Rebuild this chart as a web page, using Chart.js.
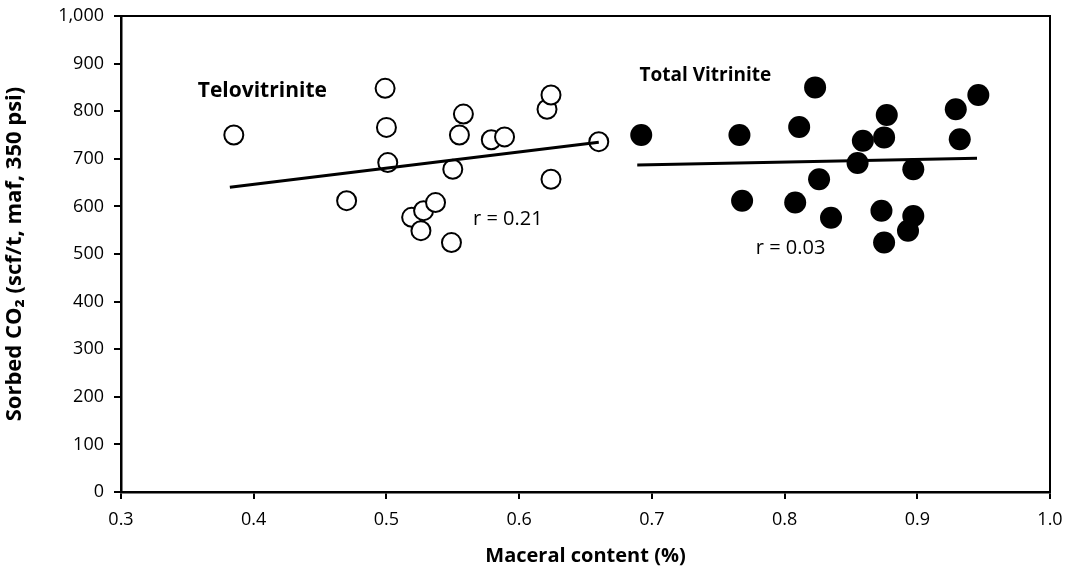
<!DOCTYPE html>
<html>
<head>
<meta charset="utf-8">
<script src="https://cdn.jsdelivr.net/npm/chart.js@4.4.1/dist/chart.umd.min.js"></script>
<style>
  html, body { margin: 0; padding: 0; background: #fff; }
  #wrap { width: 1068px; height: 581px; position: relative; }
</style>
</head>
<body>
<div id="wrap"><canvas id="sorbChart"></canvas></div>
<script>
// Telovitrinite samples (open circles)
const teloX = [0.385, 0.470, 0.499, 0.500, 0.501, 0.519, 0.528, 0.526, 0.537, 0.549,
               0.550, 0.555, 0.558, 0.579, 0.589, 0.621, 0.624, 0.624, 0.660];
const teloY = [750, 612, 848, 766, 692, 577, 591, 549, 608, 524,
               678, 750, 794, 740, 746, 804, 834, 657, 736];

// Total vitrinite samples (filled circles)
const totalX = [0.692, 0.766, 0.768, 0.808, 0.811, 0.823, 0.826, 0.835, 0.855, 0.859,
                0.873, 0.875, 0.875, 0.877, 0.893, 0.897, 0.897, 0.929, 0.932, 0.946];
const totalY = [750, 750, 612, 608, 767, 850, 657, 576, 691, 738,
                591, 524, 745, 792, 549, 678, 580, 804, 741, 834];

// Linear fit end points
const teloFitX = [0.382, 0.660];
const teloFitY = [640, 735];
const totalFitX = [0.689, 0.945];
const totalFitY = [687, 701];

const xTicks = [0.3, 0.4, 0.5, 0.6, 0.7, 0.8, 0.9, 1.0];
const yTicks = [0, 100, 200, 300, 400, 500, 600, 700, 800, 900, 1000];

const FONT = "'Open Sans', sans-serif";

const toPoints = (xs, ys) => xs.map((x, i) => ({ x: x, y: ys[i] }));

// Text placed on the plot, anchored in data units
const notes = [
    { text: 'Telovitrinite', x: 0.4065, y: 843, font: 'bold 21px ' },
    { text: 'Total Vitrinite', x: 0.7403, y: 874, font: 'bold 19px ' },
    { text: 'r = 0.21', x: 0.5915, y: 572, font: '20px ' },
    { text: 'r = 0.03', x: 0.8045, y: 511, font: '20px ' }
];

const framePlugin = {
    id: 'frame',
    afterDatasetsDraw(chart) {
        const { ctx, chartArea: a, scales } = chart;
        ctx.save();
        // top and right edges of the box
        ctx.strokeStyle = '#000';
        ctx.lineWidth = 2;
        ctx.beginPath();
        ctx.moveTo(a.left, a.top);
        ctx.lineTo(a.right, a.top);
        ctx.lineTo(a.right, a.bottom);
        ctx.stroke();

        ctx.fillStyle = '#000';
        ctx.textAlign = 'center';
        ctx.textBaseline = 'middle';
        notes.forEach(n => {
            ctx.font = n.font + FONT;
            ctx.fillText(n.text, scales.x.getPixelForValue(n.x), scales.y.getPixelForValue(n.y));
        });
        ctx.restore();
    }
};

new Chart(document.getElementById('sorbChart'), {
    type: 'scatter',
    data: {
        datasets: [
            {
                type: 'line',
                label: 'Telovitrinite fit',
                data: toPoints(teloFitX, teloFitY),
                borderColor: '#000',
                borderWidth: 3,
                pointRadius: 0,
                showLine: true,
                order: 0
            },
            {
                type: 'line',
                label: 'Total vitrinite fit',
                data: toPoints(totalFitX, totalFitY),
                borderColor: '#000',
                borderWidth: 3,
                pointRadius: 0,
                showLine: true,
                order: 0
            },
            {
                label: 'Telovitrinite',
                data: toPoints(teloX, teloY),
                pointStyle: 'circle',
                pointRadius: 9.5,
                pointBorderWidth: 2,
                pointBorderColor: '#000',
                pointBackgroundColor: '#fff',
                order: 1
            },
            {
                label: 'Total Vitrinite',
                data: toPoints(totalX, totalY),
                pointStyle: 'circle',
                pointRadius: 11,
                pointBorderWidth: 0,
                pointBorderColor: '#000',
                pointBackgroundColor: '#000',
                order: 1
            }
        ]
    },
    options: {
        responsive: true,
        maintainAspectRatio: false,
        animation: false,
        layout: { padding: { top: 16, right: 18, left: 0, bottom: 13 } },
        plugins: {
            legend: { display: false },
            tooltip: { enabled: false }
        },
        scales: {
            x: {
                type: 'linear',
                min: 0.3,
                max: 1.0,
                afterFit(scale) {
                    scale.height = 76;
                    scale.paddingLeft = 0;
                    scale.paddingRight = 0;
                },
                afterBuildTicks(scale) { scale.ticks = xTicks.map(v => ({ value: v })); },
                border: { display: true, color: '#000', width: 2.5 },
                grid: { drawOnChartArea: false, drawTicks: true, tickLength: 7, color: '#000', lineWidth: 2 },
                ticks: {
                    color: '#000',
                    padding: 10,
                    font: { family: FONT, size: 18 },
                    callback: v => v.toFixed(1)
                },
                title: {
                    display: true,
                    text: 'Maceral content (%)',
                    color: '#000',
                    font: { family: FONT, size: 20, weight: 'bold' },
                    padding: { top: 8, bottom: 0 }
                }
            },
            y: {
                type: 'linear',
                min: 0,
                max: 1000,
                afterFit(scale) {
                    scale.width = 121;
                    scale.paddingTop = 0;
                    scale.paddingBottom = 0;
                },
                afterBuildTicks(scale) { scale.ticks = yTicks.map(v => ({ value: v })); },
                border: { display: true, color: '#000', width: 2.5 },
                grid: { drawOnChartArea: false, drawTicks: true, tickLength: 7, color: '#000', lineWidth: 2 },
                ticks: {
                    color: '#000',
                    padding: 10,
                    font: { family: FONT, size: 18 },
                    callback: v => v.toLocaleString('en-US')
                },
                title: {
                    display: true,
                    text: 'Sorbed CO₂ (scf/t, maf, 350 psi)',
                    color: '#000',
                    font: { family: FONT, size: 22, weight: 'bold' },
                    padding: { top: 2, bottom: 4 }
                }
            }
        }
    },
    plugins: [framePlugin]
});
</script>
</body>
</html>
